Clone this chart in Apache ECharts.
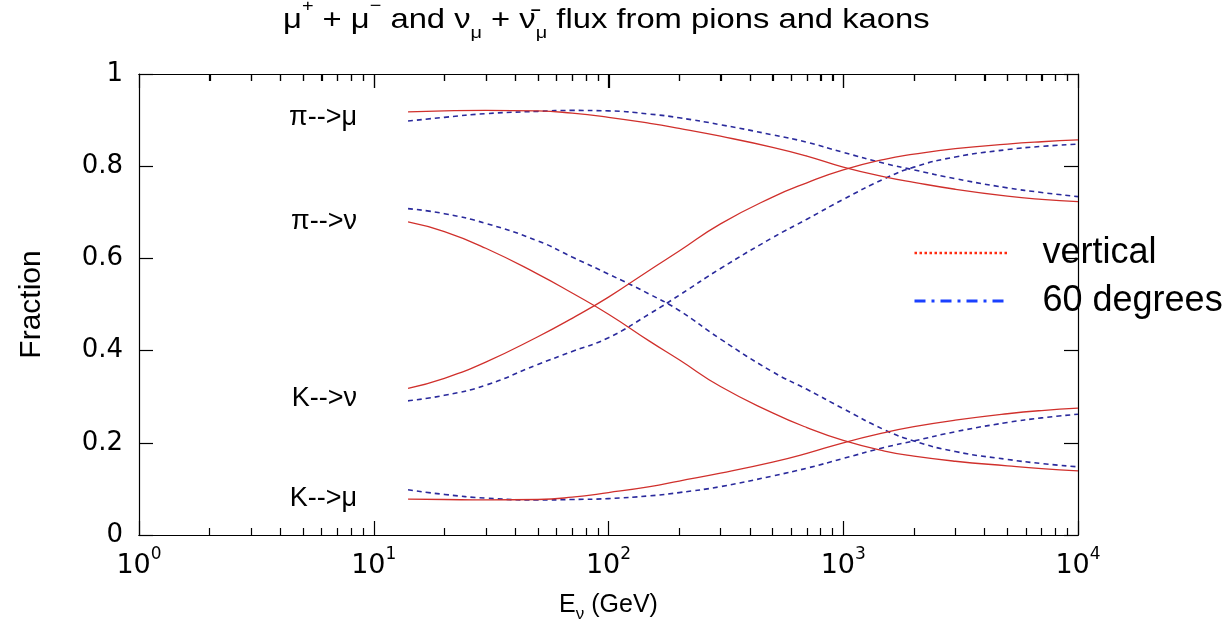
<!DOCTYPE html>
<html>
<head>
<meta charset="utf-8">
<script src="https://cdn.jsdelivr.net/npm/echarts@6/dist/echarts.min.js"></script>
<style>
  html, body { margin: 0; padding: 0; background: #ffffff; }
  #chart { width: 1229px; height: 629px; }
</style>
</head>
<body>
<div id="chart"></div>
<script>
// Neutrino energy grid (GeV)
const energies = [14, 20, 30, 50, 70, 100, 150, 200, 300, 500, 700, 1000, 1500, 2000, 3000, 5000, 7000, 10000];

// Fraction of the muon flux from pions / kaons
const piMuVertical = [0.918, 0.920, 0.921, 0.920, 0.915, 0.906, 0.893, 0.882, 0.865, 0.841, 0.822, 0.798, 0.777, 0.765, 0.750, 0.735, 0.728, 0.723];
const piMu60       = [0.898, 0.906, 0.914, 0.919, 0.921, 0.920, 0.913, 0.905, 0.890, 0.868, 0.852, 0.830, 0.806, 0.792, 0.773, 0.753, 0.743, 0.734];
const kMuVertical  = [0.078, 0.077, 0.076, 0.077, 0.082, 0.092, 0.105, 0.117, 0.134, 0.158, 0.177, 0.200, 0.222, 0.235, 0.249, 0.263, 0.270, 0.275];
const kMu60        = [0.098, 0.088, 0.080, 0.076, 0.077, 0.079, 0.085, 0.092, 0.105, 0.128, 0.145, 0.166, 0.190, 0.204, 0.224, 0.244, 0.254, 0.262];

// Fraction of the muon-neutrino flux from pions / kaons
const piNuVertical = [0.679, 0.658, 0.622, 0.566, 0.525, 0.479, 0.420, 0.380, 0.322, 0.265, 0.233, 0.205, 0.182, 0.171, 0.160, 0.150, 0.144, 0.139];
const piNu60       = [0.708, 0.697, 0.676, 0.638, 0.603, 0.566, 0.522, 0.487, 0.425, 0.354, 0.316, 0.274, 0.228, 0.204, 0.181, 0.164, 0.155, 0.148];
const kNuVertical  = [0.318, 0.340, 0.375, 0.430, 0.470, 0.516, 0.575, 0.616, 0.675, 0.733, 0.764, 0.792, 0.815, 0.826, 0.838, 0.848, 0.853, 0.857];
const kNu60        = [0.291, 0.303, 0.325, 0.370, 0.398, 0.428, 0.480, 0.520, 0.578, 0.645, 0.685, 0.728, 0.773, 0.798, 0.820, 0.836, 0.843, 0.848];

// Axis ticks
const yTicks = [0, 0.2, 0.4, 0.6, 0.8, 1];
const xMajorTicks = [1, 10, 100, 1000, 10000];
const xMinorTicks = [];
for (let d = 1; d < 10000; d *= 10) {
  for (let m = 2; m <= 9; m++) xMinorTicks.push(m * d);
}

// Channel labels drawn beside the curves
const channelLabels = [
  { text: 'π-->μ', value: 0.905 },
  { text: 'π-->ν', value: 0.680 },
  { text: 'K-->ν', value: 0.295 },
  { text: 'K-->μ', value: 0.078 }
];

const SANS = '"Liberation Sans", Arial, sans-serif';
const DIGITS = '"DejaVu Sans", sans-serif';
const RED = '#d0302c';
const BLUE = '#2a2a9c';
const MAJOR_LEN = 14;
const MINOR_LEN = 7;

const chart = echarts.init(document.getElementById('chart'));

const pairs = vals => energies.map((e, i) => [e, vals[i]]);

function curve(name, vals, isVertical) {
  const color = isVertical ? RED : BLUE;
  return {
    type: 'line',
    name: name,
    xAxisIndex: 0,
    yAxisIndex: 0,
    data: pairs(vals),
    smooth: 0.5,
    symbol: 'none',
    showSymbol: false,
    clip: true,
    silent: true,
    itemStyle: { color: color },
    lineStyle: isVertical
      ? { color: RED, width: 1.3, type: 'solid' }
      : { color: BLUE, width: 1.6, type: [5, 4] },
    z: isVertical ? 3 : 2
  };
}

// Energy axis; the bottom copy carries the labels, the top copy only mirrors
// the ticks (its labels are kept but made transparent).
function logAxis(position, major, withLabels) {
  const isBottom = position === 'bottom';
  return {
    type: 'log',
    logBase: 10,
    min: 1,
    max: 10000,
    position: position,
    axisLine: { show: true, onZero: false, lineStyle: { color: '#000', width: 1.2 } },
    axisTick: {
      show: true,
      inside: true,
      length: major ? MAJOR_LEN : MINOR_LEN,
      customValues: major ? xMajorTicks : xMinorTicks,
      lineStyle: { color: '#000', width: 1.2 }
    },
    axisLabel: withLabels ? {
      show: true,
      margin: 11,
      customValues: xMajorTicks,
      formatter: v => '{b|10}{s|' + Math.round(Math.log10(v)) + '}',
      rich: {
        b: { fontSize: 27, fontFamily: DIGITS, color: '#000', lineHeight: 40 },
        s: { fontSize: 17, fontFamily: DIGITS, color: '#000', lineHeight: 22, verticalAlign: 'top' }
      }
    } : (isBottom ? { show: false } : {
      show: true,
      color: 'rgba(0,0,0,0)',
      fontSize: 10,
      customValues: major ? xMajorTicks : xMinorTicks,
      formatter: () => ' '
    }),
    splitLine: { show: false },
    minorTick: { show: false },
    name: withLabels ? '{e|E}{n|ν}{e| (GeV)}' : '',
    nameLocation: 'middle',
    nameGap: 52,
    nameTextStyle: {
      rich: {
        e: { fontSize: 25, fontFamily: SANS, color: '#000', lineHeight: 36 },
        n: { fontSize: 17, fontFamily: SANS, color: '#000', lineHeight: 24, verticalAlign: 'bottom' }
      }
    }
  };
}

function valueAxis(position, withLabels) {
  return {
    type: 'value',
    min: 0,
    max: 1,
    interval: 0.2,
    position: position,
    axisLine: { show: true, onZero: false, lineStyle: { color: '#000', width: 1.2 } },
    axisTick: { show: true, inside: true, length: MAJOR_LEN, lineStyle: { color: '#000', width: 1.2 } },
    axisLabel: withLabels ? {
      show: true,
      margin: 16,
      color: '#000',
      fontSize: 26,
      fontFamily: DIGITS,
      customValues: yTicks,
      formatter: v => String(Math.round(v * 10) / 10)
    } : { show: false },
    splitLine: { show: false },
    name: withLabels ? 'Fraction' : '',
    nameLocation: 'middle',
    nameRotate: 90,
    nameGap: 92,
    nameTextStyle: { fontSize: 30, fontFamily: SANS, color: '#000' }
  };
}

const titleRich = {
  a: { fontSize: 28, fontFamily: SANS, fill: '#000', color: '#000', lineHeight: 44 },
  p: { fontSize: 17, fontFamily: SANS, fill: '#000', color: '#000', lineHeight: 22, verticalAlign: 'top' },
  b: { fontSize: 17, fontFamily: SANS, fill: '#000', color: '#000', lineHeight: 22, verticalAlign: 'bottom' }
};

const option = {
  animation: false,
  legend: {
    orient: 'vertical',
    left: 908,
    top: 228,
    itemWidth: 94,
    itemHeight: 14,
    itemGap: 8,
    selectedMode: false,
    textStyle: { fontSize: 36, fontFamily: SANS, color: '#000', lineHeight: 40, padding: [0, 0, 0, 29] },
    data: [
      { name: 'vertical', itemStyle: { opacity: 0 }, lineStyle: { color: '#ff2a10', type: 'dotted', width: 2.5, opacity: 1 } },
      { name: '60 degrees', itemStyle: { opacity: 0 }, lineStyle: { color: '#1a40ff', type: [11, 6, 3, 6], width: 3, opacity: 1 } }
    ]
  },
  grid: { left: 139, right: 151, top: 74, bottom: 94 },
  xAxis: [
    logAxis('bottom', true, true),
    logAxis('top', true, false),
    logAxis('bottom', false, false),
    logAxis('top', false, false)
  ],
  yAxis: [
    valueAxis('left', true),
    valueAxis('right', false)
  ],
  series: [
    curve('vertical', piMuVertical, true),
    curve('60 degrees', piMu60, false),
    curve('vertical', piNuVertical, true),
    curve('60 degrees', piNu60, false),
    curve('vertical', kNuVertical, true),
    curve('60 degrees', kNu60, false),
    curve('vertical', kMuVertical, true),
    curve('60 degrees', kMu60, false)
  ]
};

chart.setOption(option);

// Top frame ticks, also drawn as plain lines placed through the axis scale
const topY = chart.convertToPixel({ yAxisIndex: 0 }, 1);
function topTickLines(values, len) {
  return values.map(v => {
    const x = Math.round(chart.convertToPixel({ xAxisIndex: 0 }, v)) + 0.5;
    return {
      type: 'line',
      z: 50,
      shape: { x1: x, y1: topY, x2: x, y2: topY + len },
      style: { stroke: '#000', lineWidth: 1.2 }
    };
  });
}

// Title (slightly widened face) and channel labels placed against the y scale
const titleText = {
  type: 'text',
  x: 283,
  y: -2,
  scaleX: 1.17,
  silent: true,
  style: {
    text: '{a|μ}{p|+}{a| + μ}{p|−}{a| and ν}{b|μ}{a| + ν̄}{b|μ}{a| flux from pions and kaons}',
    rich: titleRich,
    fill: '#000',
    align: 'left',
    verticalAlign: 'top'
  }
};

const labelTexts = channelLabels.map(l => ({
  type: 'text',
  x: 357,
  y: chart.convertToPixel({ yAxisIndex: 0 }, l.value),
  silent: true,
  style: {
    text: l.text,
    fill: '#000',
    font: '27px ' + SANS,
    align: 'right',
    textAlign: 'right',
    verticalAlign: 'middle',
    textVerticalAlign: 'middle'
  }
}));

chart.setOption({
  graphic: topTickLines(xMajorTicks.slice(1, -1), MAJOR_LEN)
    .concat(topTickLines(xMinorTicks, MINOR_LEN))
    .concat([titleText])
    .concat(labelTexts)
});
</script>
</body>
</html>
